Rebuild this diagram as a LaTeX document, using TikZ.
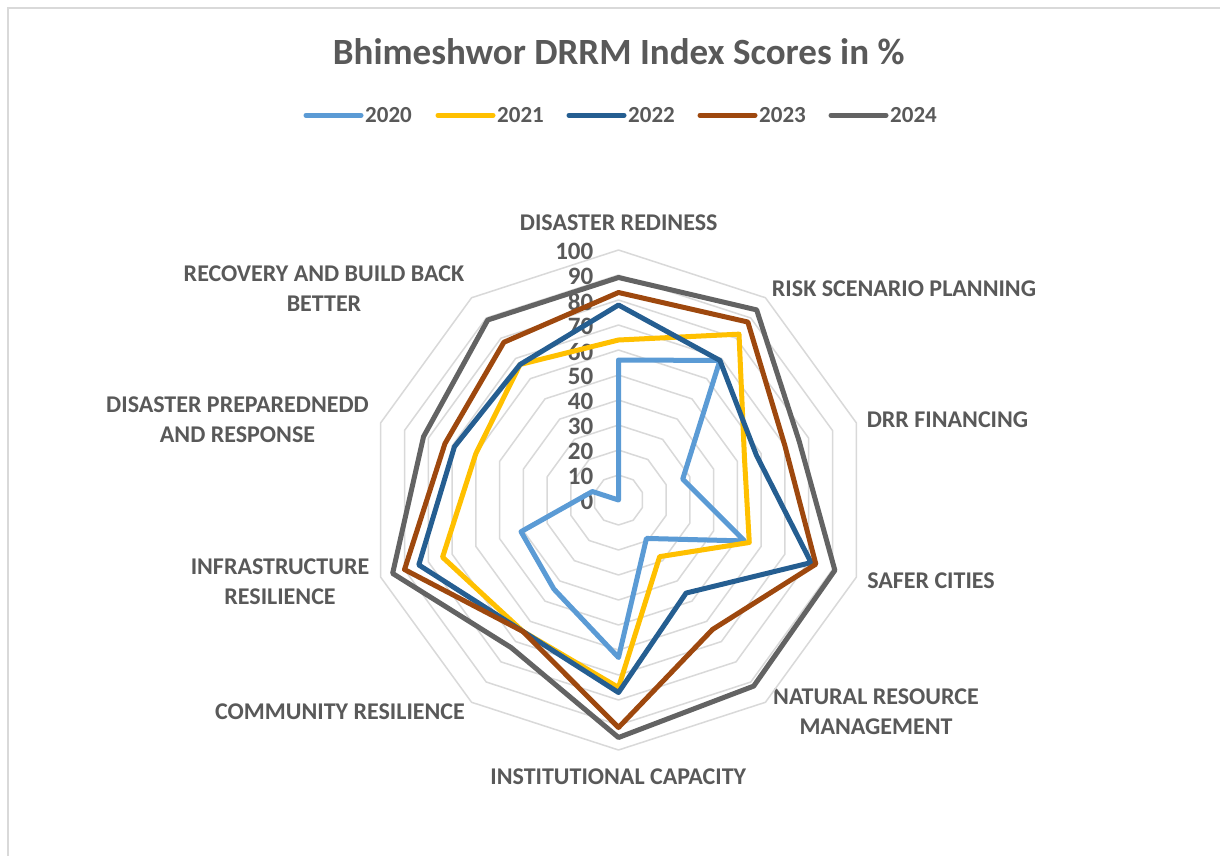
\documentclass[tikz,border=0pt]{standalone}
\usepackage{fontspec}
\setmainfont{Carlito}
\definecolor{txt}{HTML}{595959}
\definecolor{gridc}{HTML}{D9D9D9}
\definecolor{c2020}{HTML}{5B9BD5}
\definecolor{c2021}{HTML}{FFC000}
\definecolor{c2022}{HTML}{255E91}
\definecolor{c2023}{HTML}{9E480E}
\definecolor{c2024}{HTML}{636363}
\begin{document}
\begin{tikzpicture}[x=1pt,y=-1pt,
  lab/.style={text=txt, font=\fontsize{24}{30}\selectfont\bfseries, inner sep=0pt, align=center},
  leg/.style={text=txt, font=\fontsize{23}{30}\selectfont\bfseries, inner sep=0pt},
  num/.style={text=txt, font=\fontsize{25}{30}\selectfont\bfseries, inner sep=0pt},
  ttl/.style={text=txt, font=\fontsize{37}{44}\selectfont\bfseries, inner sep=0pt},
  gridline/.style={draw=gridc, line width=1.5pt, line join=round},
  serie/.style={line width=5pt, line join=round, line cap=round}]
\useasboundingbox (0,0) rectangle (1220,855);
\fill[white] (0,0) rectangle (1220,855);
\draw[gridc, line width=2pt] (1240,8) -- (8,8) -- (8,875);

\node[ttl, anchor=base] (title) at (618.7,64) {Bhimeshwor DRRM Index Scores in \%};

\foreach \yr/\tx in {2020/365,2021/497,2022/628,2023/759,2024/890}{
  \node[leg, anchor=base west] (t\yr) at (\tx,122.7) {\yr};
  \draw[serie, draw=c\yr] ([xshift=-59pt]t\yr.west) -- ([xshift=-4pt]t\yr.west);
}

\node[lab] (a0) at (618.7,222.5) {DISASTER REDINESS};
\node[lab] (a1) at (904,288.5) {RISK SCENARIO PLANNING};
\node[lab] (a2) at (947.5,419.8) {DRR FINANCING};
\node[lab] (a3) at (931,580.5) {SAFER CITIES};
\node[lab] (a4) at (876,711.8) {NATURAL RESOURCE\\MANAGEMENT};
\node[lab] (a5) at (618.3,777) {INSTITUTIONAL CAPACITY};
\node[lab] (a6) at (340,711.7) {COMMUNITY RESILIENCE};
\node[lab] (a7) at (280,581.5) {INFRASTRUCTURE\\RESILIENCE};
\node[lab] (a8) at (237.5,419.5) {DISASTER PREPAREDNEDD\\AND RESPONSE};
\node[lab] (a9) at (324,288.7) {RECOVERY AND BUILD BACK\\BETTER};

\begin{scope}[shift={(618.5,500)}, y=1pt]
  \foreach \r in {1,...,10}{
    \draw[gridline] (90:25*\r) \foreach \k in {1,...,9}{ -- (90-36*\k:25*\r)} -- cycle;
  }
  \foreach \v in {0,10,...,100}{
    \node[num, anchor=east] (n\v) at (-25,{2.5*\v-1.7}) {\v};
  }
  \draw[serie, draw=c2020] (90:2.5*56) \foreach \v [count=\i] in {69,27,53,19,63,44,41,11,0}{ -- (90-36*\i:2.5*\v)} -- cycle;
  \draw[serie, draw=c2021] (90:2.5*64) \foreach \v [count=\i] in {82,53,55,28,75,65,74,60,67}{ -- (90-36*\i:2.5*\v)} -- cycle;
  \draw[serie, draw=c2022] (90:2.5*78) \foreach \v [count=\i] in {69,58,81,46,77,65,84,69,67}{ -- (90-36*\i:2.5*\v)} -- cycle;
  \draw[serie, draw=c2023] (90:2.5*83) \foreach \v [count=\i] in {88,70,83,64,91,65,90,73,78}{ -- (90-36*\i:2.5*\v)} -- cycle;
  \draw[serie, draw=c2024] (90:2.5*89) \foreach \v [count=\i] in {94,76,91,92,95,73,95,82,89}{ -- (90-36*\i:2.5*\v)} -- cycle;
\end{scope}
\end{tikzpicture}
\end{document}
